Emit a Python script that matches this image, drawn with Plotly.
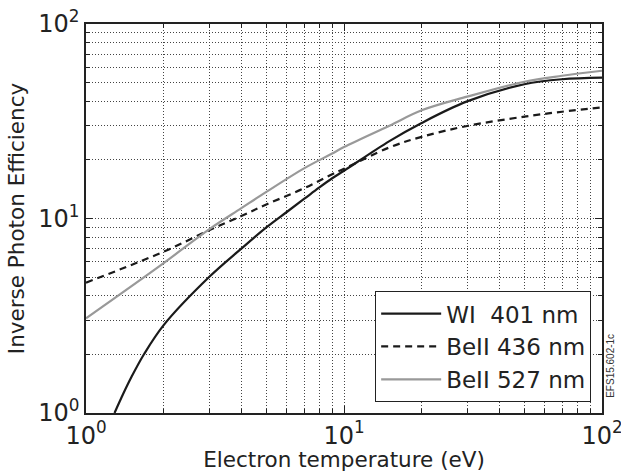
import plotly.graph_objects as go

# Data (log-log)
wi_x = [1.29, 1.4, 1.5, 1.68, 2, 3, 4, 5, 6, 7, 8, 9, 10, 15, 20, 30, 50, 70, 100]
wi_y = [1.0, 1.27, 1.53, 2.01, 2.83, 5.0, 7.0, 9.0, 10.8, 12.6, 14.4, 16.1, 17.6, 25.0, 31, 40, 49, 52, 53]

b436_x = [1, 2, 3, 4, 5, 7, 9, 10, 15, 20, 30, 50, 70, 100]
b436_y = [4.68, 6.75, 8.7, 10.3, 11.8, 14.3, 16.9, 18.0, 23.2, 26.3, 29.9, 33.4, 35.4, 37.3]

b527_x = [1, 2, 3, 4, 5, 7, 9, 10, 15, 20, 30, 50, 70, 100]
b527_y = [3.07, 5.9, 8.8, 11.3, 13.7, 18.1, 21.6, 23.3, 30.0, 36.0, 42.3, 50.5, 54.2, 57.5]

names = ["WI\u00a0\u00a0401 nm", "BeII 436 nm", "BeII 527 nm"]
tick_vals = [1, 10, 100]
tick_text = ["10<sup>0</sup>", "10<sup>1</sup>", "10<sup>2</sup>"]
minor_vals = [2, 3, 4, 5, 6, 7, 8, 9, 20, 30, 40, 50, 60, 70, 80, 90]

font = "DejaVu Sans, Arial, sans-serif"

fig = go.Figure()
fig.add_trace(go.Scatter(x=wi_x, y=wi_y, mode="lines", name=names[0],
                         line=dict(color="#1a1a1a", width=2.2, shape="spline", smoothing=1.0)))
fig.add_trace(go.Scatter(x=b436_x, y=b436_y, mode="lines", name=names[1],
                         line=dict(color="#1a1a1a", width=2.2, dash="7px,5px",
                                   shape="spline", smoothing=1.0)))
fig.add_trace(go.Scatter(x=b527_x, y=b527_y, mode="lines", name=names[2],
                         line=dict(color="#999999", width=2.2, shape="spline", smoothing=1.0)))

axis_common = dict(
    type="log", automargin=False, ticklabeloverflow="allow",
    showline=True, linecolor="#222", linewidth=1.5, mirror="ticks",
    ticks="inside", ticklen=7, tickcolor="#222",
    tickvals=tick_vals, ticktext=tick_text,
    showgrid=True, gridcolor="#444", gridwidth=1, griddash="1px,2px",
    zeroline=False,
    tickfont=dict(family=font, size=24, color="#222"),
    minor=dict(ticks="inside", ticklen=4, tickcolor="#222", showgrid=True,
               gridcolor="#444", gridwidth=1, griddash="1px,2px",
               tickvals=minor_vals),
)

fig.update_xaxes(range=[0, 2],
                 title=dict(text="Electron temperature (eV)",
                            font=dict(family=font, size=21.5, color="#222"), standoff=0),
                 **axis_common)
fig.update_yaxes(range=[0, 2],
                 title=dict(text="Inverse Photon Efficiency",
                            font=dict(family=font, size=21.5, color="#222"), standoff=8),
                 **axis_common)

fig.update_layout(
    width=621, height=472,
    margin=dict(l=86, r=19, t=24, b=59),
    paper_bgcolor="white", plot_bgcolor="white",
    font=dict(family=font, color="#222"),
    legend=dict(x=0.979, xanchor="right", y=0.028, yanchor="bottom",
                bgcolor="white", bordercolor="#222", borderwidth=1,
                font=dict(family=font, size=23, color="#222"),
                itemwidth=60),
    annotations=[dict(text="EFS15.602-1c", x=1.0, y=0.12, xref="paper", yref="paper",
                      xanchor="left", yanchor="middle", textangle=-90,
                      showarrow=False, xshift=1,
                      font=dict(family="Liberation Sans, Arial", size=10, color="#333"))],
)

fig.write_html("out.html")
